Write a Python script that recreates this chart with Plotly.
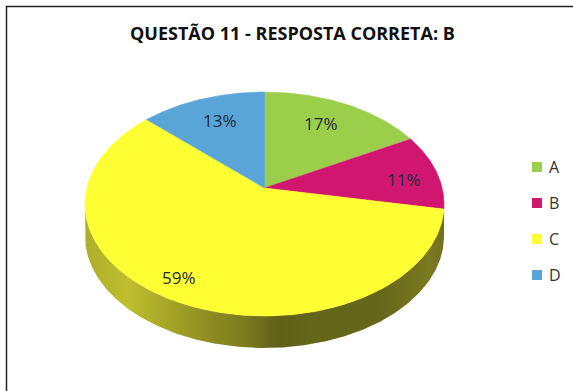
import numpy as np
import plotly.graph_objects as go

# Answer shares for question 11, in percent
categories = ["A", "B", "C", "D"]
shares = [17, 11, 59, 13]
colors = ["#9BCF4B", "#D0166F", "#FFFF33", "#5AA5D8"]

title_text = "QUESTÃO 11 - RESPOSTA CORRETA: B"

# Pie geometry in page pixels: apex, radii, perspective strength, wall height
APEX_X, APEX_Y = 264.5, 188.0
RADIUS_X, RADIUS_Y = 177.7, 109.7
PERSPECTIVE = 1 / 7
WALL_HEIGHT = 32.0

# Where each percentage sits on the top face, and the legend column
LABEL_POS = [(321, 123), (404, 179), (179, 277), (220, 120)]
LEGEND_X = 537
LEGEND_TEXT_X = 549
LEGEND_Y = [167, 203, 239, 275]


def project(fraction, radius=1.0):
    """Map a clockwise fraction of the full turn (0 at 12 o'clock) to the tilted disc."""
    angle = 2 * np.pi * np.asarray(fraction, dtype=float)
    u, v = radius * np.sin(angle), radius * np.cos(angle)
    depth = 1 + PERSPECTIVE * v
    return APEX_X + RADIUS_X * u / depth, APEX_Y - RADIUS_Y * v / depth


fig = go.Figure()

# Outer wall: the front part of the rim, extruded downward
turn = np.linspace(0, 1, 721)
rim_x, rim_y = project(turn)
widest_right = turn[np.argmax(rim_x)]
widest_left = turn[np.argmin(rim_x)]
front = np.linspace(widest_right, widest_left, 361)
front_x, front_y = project(front)
fig.add_trace(go.Scatter(
    x=np.concatenate([front_x, front_x[::-1]]),
    y=np.concatenate([front_y, front_y[::-1] + WALL_HEIGHT]),
    mode="lines",
    line=dict(width=0),
    fill="toself",
    fillgradient=dict(
        type="horizontal",
        colorscale=[
            [0.0, "#AEAE2A"],
            [0.12, "#BEBE2E"],
            [0.22, "#A8A828"],
            [0.36, "#8A8A22"],
            [0.45, "#7A7A1F"],
            [0.545, "#5F5F18"],
            [0.64, "#66661A"],
            [0.82, "#66661A"],
            [0.96, "#7A7A20"],
            [1.0, "#707020"],
        ],
    ),
    hoverinfo="skip",
    showlegend=False,
))

# Top face: one wedge per category, sized by its share
total = sum(shares)
edges = np.cumsum([0] + shares) / total
for name, start, stop, color in zip(categories, edges[:-1], edges[1:], colors):
    arc_x, arc_y = project(np.linspace(start, stop, 181))
    fig.add_trace(go.Scatter(
        x=np.concatenate([[APEX_X], arc_x, [APEX_X]]),
        y=np.concatenate([[APEX_Y], arc_y, [APEX_Y]]),
        mode="lines",
        line=dict(width=0.5, color=color),
        fill="toself",
        fillcolor=color,
        name=name,
        showlegend=False,
    ))

# Legend column: swatches as markers, names as text beside them
fig.add_trace(go.Scatter(
    x=[LEGEND_X] * len(categories),
    y=LEGEND_Y,
    mode="markers",
    marker=dict(symbol="square", size=10, color=colors, line=dict(width=0)),
    hoverinfo="skip",
    showlegend=False,
))

annotations = [
    dict(
        x=x, y=y, text=f"{share}%", showarrow=False, xanchor="center", yanchor="middle",
        font=dict(family="Open Sans", size=17, color="#1E2A38"),
    )
    for share, (x, y) in zip(shares, LABEL_POS)
]
annotations += [
    dict(
        x=LEGEND_TEXT_X, y=y, text=name, showarrow=False, xanchor="left", yanchor="middle",
        xshift=-2, font=dict(family="Open Sans", size=16, color="#333333"),
    )
    for name, y in zip(categories, LEGEND_Y)
]
annotations.append(dict(
    x=292.5, y=33, text=f"<b>{title_text}</b>", showarrow=False,
    xanchor="center", yanchor="middle",
    font=dict(family="Open Sans", size=18, color="#111111"),
))

fig.update_layout(
    width=573,
    height=391,
    margin=dict(l=0, r=0, t=0, b=0),
    paper_bgcolor="white",
    plot_bgcolor="white",
    xaxis=dict(range=[0, 573], visible=False, fixedrange=True),
    yaxis=dict(range=[391, 0], visible=False, fixedrange=True),
    annotations=annotations,
    shapes=[dict(
        type="rect", x0=6.5, y0=6.5, x1=600, y1=420,
        line=dict(color="#222222", width=1.5), layer="below",
    )],
    showlegend=False,
)

fig.write_html("out.html")
